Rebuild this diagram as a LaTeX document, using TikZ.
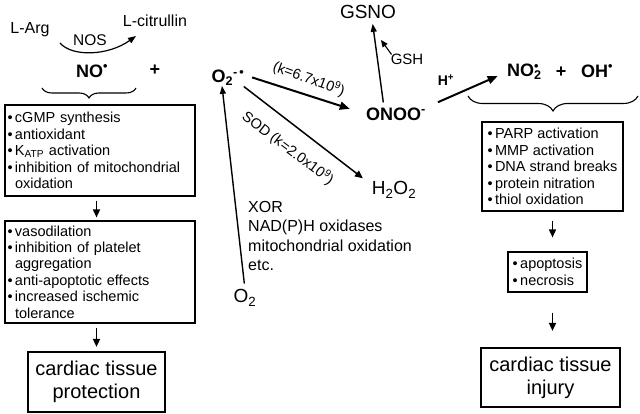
\documentclass[tikz,border=0pt]{standalone}
\usepackage{fontspec}
\setmainfont{Liberation Sans}
\usetikzlibrary{arrows.meta,decorations.pathreplacing}
\newcommand{\fsz}[1]{\fontsize{#1}{#1}\selectfont}
\newcommand{\bl}{\makebox[7.5pt][l]{•}}
\newcommand{\ind}{\hspace*{7.5pt}}
\begin{document}
\begin{tikzpicture}[x=1pt,y=-1pt,
  lbl/.style={inner sep=0pt},
  box/.style={draw,line width=1.1pt,align=left,inner ysep=0pt,font=\fontsize{14.5}{16.4}\selectfont},
  bigbox/.style={draw,line width=2.2pt,align=center,font=\fontsize{20}{23}\selectfont,inner sep=0pt},
  arr/.style={line width=1.6pt,-{Triangle[length=8pt,width=7pt]}},
  thickarr/.style={line width=2pt,-{Triangle[length=10pt,width=8pt]}},
  thinarr/.style={line width=1.2pt,-{Triangle[length=8pt,width=6pt]}},
  brc/.style={line width=1.1pt,decorate},
]
\fill[white] (0,0) rectangle (640,414);
\useasboundingbox (0,0) rectangle (640,414);

% top labels
\node[lbl,font=\fsz{16}] (larg) at (30,30) {L-Arg};
\node[lbl,font=\fsz{16}] (lcit) at (155,21) {L-citrullin};
\node[lbl,font=\fsz{15.5}] (nos) at (90,40) {NOS};
\node[lbl,font=\fsz{18}\bfseries] (no) at (92,71) {NO\textsuperscript{•}};
\node[lbl,font=\fsz{18}\bfseries] (plus1) at (155,70) {+};
\node[lbl,font=\fsz{18}\bfseries] (o2r) at (228,78) {O\textsubscript{2}\textsuperscript{-\,•}};
\node[lbl,font=\fsz{19}] (gsno) at (368,12) {GSNO};
\node[lbl,font=\fsz{15}] (gsh) at (407,59) {GSH};
\node[lbl,font=\fsz{18}\bfseries] (onoo) at (396,114) {ONOO\textsuperscript{-}};
\node[lbl,font=\fsz{14}\bfseries] (hplus) at (446,80) {H\textsuperscript{+}};
\node[lbl,font=\fsz{18}\bfseries] (no2) at (523,72) {NO\rlap{\textsubscript{2}}\textsuperscript{•}};
\node[lbl,font=\fsz{18}\bfseries] (plus2) at (561,72) {+};
\node[lbl,font=\fsz{18}\bfseries] (oh) at (597,71) {OH\textsuperscript{•}};
\node[lbl,font=\fsz{19}] (h2o2) at (394,190) {H\textsubscript{2}O\textsubscript{2}};
\node[lbl,font=\fsz{19}] (o2b) at (245,298) {O\textsubscript{2}};
\node[lbl,font=\fontsize{16}{19.5}\selectfont,align=left,anchor=west] (src) at (248,236)
  {XOR\\NAD(P)H oxidases\\mitochondrial oxidation\\etc.};
\node[lbl,font=\fsz{14.5},rotate=-20] (k1) at (309,79) {(k=6.7x10\textsuperscript{9})};
\node[lbl,font=\fsz{14.5},rotate=-37] (k2) at (288,148) {SOD (k=2.0x10\textsuperscript{9})};

% NOS arrow
\coordinate (nosA) at (60,43);
\coordinate (nosB) at (136,36);
\draw[thinarr] (nosA) .. controls (72,57) and (108,56) .. (nosB);

% braces
\draw[brc,decoration={brace,mirror,amplitude=10pt}] (42,88) -- (136,88);
\draw[brc,decoration={brace,mirror,amplitude=15pt}] (468,96) -- (638,96);

% left boxes
\node[box,text width=185pt,inner xsep=2.5pt,minimum height=91pt] (b1) at (100,150.5)
  {\bl cGMP synthesis\\ \bl antioxidant\\ \bl K\textsubscript{ATP} activation\\ \bl inhibition of mitochondrial\\ \ind oxidation};
\node[box,text width=185pt,inner xsep=2.5pt,minimum height=102pt] (b2) at (100,272)
  {\bl vasodilation\\ \bl inhibition of platelet\\ \ind aggregation\\ \bl anti-apoptotic effects\\ \bl increased ischemic\\ \ind tolerance};
\node[bigbox,minimum width=137pt,minimum height=60pt] (b3) at (96.5,382) {cardiac tissue\\protection};

% right boxes
\node[box,minimum width=141pt,minimum height=89pt] (r1) at (552.5,166.5)
  {\bl PARP activation\\ \bl MMP activation\\ \bl DNA strand breaks\\ \bl protein nitration\\ \bl thiol oxidation};
\node[box,minimum width=79pt,minimum height=40pt] (r2) at (547.5,272)
  {\bl apoptosis\\ \bl necrosis};
\node[bigbox,minimum width=139pt,minimum height=59pt] (r3) at (550.5,377.5) {cardiac tissue\\injury};

% vertical arrows
\draw[arr,shorten <=4pt,shorten >=3pt] (b1.south -| b3.north) -- (b2.north -| b3.north);
\draw[arr,shorten <=4pt,shorten >=4pt] (b2.south -| b3.north) -- (b3.north);
\draw[arr,shorten <=9pt,shorten >=14pt] (r1.south) -- (r1.south |- r2.north);
\draw[arr,shorten <=20pt,shorten >=16pt] (r2.south -| r1.south) -- (r3.north -| r1.south);

% reaction arrows
\draw[thickarr,shorten <=8pt,shorten >=17pt] ([yshift=3pt]o2r.east) -- (onoo.west);
\draw[arr,line width=1.5pt,shorten <=1pt,shorten >=11pt] ([xshift=15pt]o2r.south) -- ([yshift=5pt]h2o2.west);
\draw[thinarr,line width=1.4pt,shorten <=5pt,shorten >=5pt] ([xshift=-12pt]onoo.north) -- ([xshift=4pt]gsno.south);
\coordinate (gshtip) at (381,40);
\draw[thinarr,line width=1.1pt,-{Triangle[length=7pt,width=6pt]}] ([xshift=1pt,yshift=-1pt]gsh.north west) -- (gshtip);
\draw[thickarr,shorten <=13pt,shorten >=10pt] (onoo.north east) -- (no2.west);
\draw[thinarr,line width=1.4pt,shorten <=6pt,shorten >=0pt] (o2b.north) -- ([xshift=-6pt]o2r.south);
\end{tikzpicture}
\end{document}
